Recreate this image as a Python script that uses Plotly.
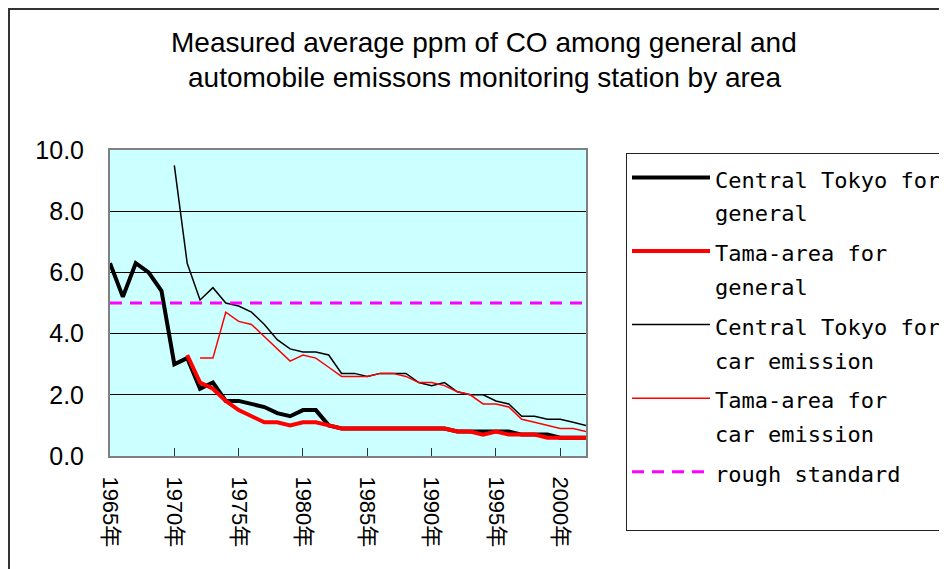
import plotly.graph_objects as go

years = list(range(1965, 2003))

central_general = [6.3, 5.2, 6.3, 6.0, 5.4, 3.0, 3.2, 2.2, 2.4, 1.8,
                   1.8, 1.7, 1.6, 1.4, 1.3, 1.5, 1.5, 1.0, 0.9, 0.9,
                   0.9, 0.9, 0.9, 0.9, 0.9, 0.9, 0.9, 0.8, 0.8, 0.8,
                   0.8, 0.8, 0.7, 0.7, 0.7, 0.6, 0.6, 0.6]

tama_general = [None, None, None, None, None, None, 3.3, 2.4, 2.2, 1.8,
                1.5, 1.3, 1.1, 1.1, 1.0, 1.1, 1.1, 1.0, 0.9, 0.9,
                0.9, 0.9, 0.9, 0.9, 0.9, 0.9, 0.9, 0.8, 0.8, 0.7,
                0.8, 0.7, 0.7, 0.7, 0.6, 0.6, 0.6, 0.6]

central_car = [None, None, None, None, None, 9.5, 6.3, 5.1, 5.5, 5.0,
               4.9, 4.7, 4.3, 3.8, 3.5, 3.4, 3.4, 3.3, 2.7, 2.7,
               2.6, 2.7, 2.7, 2.7, 2.4, 2.3, 2.4, 2.1, 2.0, 2.0,
               1.8, 1.7, 1.3, 1.3, 1.2, 1.2, 1.1, 1.0]

tama_car = [None, None, None, None, None, None, None, 3.2, 3.2, 4.7,
            4.4, 4.3, 3.9, 3.5, 3.1, 3.3, 3.2, 2.9, 2.6, 2.6,
            2.6, 2.7, 2.7, 2.6, 2.4, 2.4, 2.3, 2.1, 2.0, 1.7,
            1.7, 1.6, 1.2, 1.1, 1.0, 0.9, 0.9, 0.8]

standard = [5.0, 5.0, 5.0, 5.0, 5.0, 5.0, 5.0, 5.0, 5.0, 5.0,
            5.0, 5.0, 5.0, 5.0, 5.0, 5.0, 5.0, 5.0, 5.0, 5.0,
            5.0, 5.0, 5.0, 5.0, 5.0, 5.0, 5.0, 5.0, 5.0, 5.0,
            5.0, 5.0, 5.0, 5.0, 5.0, 5.0, 5.0, 5.0]

tick_years = [1965, 1970, 1975, 1980, 1985, 1990, 1995, 2000]
tick_labels = [f"{y}年" for y in tick_years]

series_lines = [["Central Tokyo for", "general"],
                ["Tama-area for", "general"],
                ["Central Tokyo for", "car emission"],
                ["Tama-area for", "car emission"],
                ["rough standard", "&nbsp;"]]

title_lines = ["Measured average ppm of CO among general and",
               "automobile emissons monitoring station by area"]

LEG_TEXT_SIZE = 22

def legend_name(lines):
    return "<br>".join(f"<span style='font-size:{LEG_TEXT_SIZE}px'>{t}</span>" for t in lines)

fig = go.Figure()
styles = [
    dict(color="#000000", width=4),
    dict(color="#FF0000", width=4),
    dict(color="#000000", width=1.5),
    dict(color="#FF0000", width=1.5),
    dict(color="#FF00FF", width=3, dash="12px,8px"),
]
for i, (lines, vals) in enumerate(zip(series_lines,
                                      [central_general, tama_general, central_car, tama_car, standard])):
    fig.add_trace(go.Scatter(x=years, y=vals, name=legend_name(lines), mode="lines",
                             line=styles[i], connectgaps=False,
                             legendgroup=f"g{i}"))

# page offset of the figure inside the browser body (default 8px margin)
OFF = 8
W, H = 947 - OFF, 569 - OFF
# plot-area edges in page pixels
PL, PR, PT, PB = 110, 586, 150, 456
L, R, T, B = PL - OFF, PR - OFF, PT - OFF, PB - OFF

def px_x(x):
    return (x - OFF - L) / (R - L)

def px_y(y):
    return (B - (y - OFF)) / (B - T)

fig.update_layout(
    width=W, height=H, autosize=False,
    margin=dict(l=L, r=W - R, t=T, b=H - B, autoexpand=False),
    paper_bgcolor="white",
    plot_bgcolor="#CCFFFF",
    showlegend=True,
    legend=dict(
        x=px_x(626), y=px_y(153), xanchor="left", yanchor="top",
        bgcolor="white", bordercolor="#222222", borderwidth=1,
        font=dict(family="DejaVu Sans Mono", size=26, color="black"),
        valign="top", itemwidth=78, tracegroupgap=3,
        maxheight=600,
        itemclick=False, itemdoubleclick=False,
    ),
    xaxis=dict(
        range=[1965, 2002], tickvals=tick_years, ticktext=tick_labels,
        tickangle=90, ticks="inside", ticklen=8, tickcolor="#333333",
        showgrid=False, zeroline=False,
        showline=True, linecolor="#808080", linewidth=2, mirror=True,
        tickfont=dict(family="Liberation Sans, Arial, Noto Sans CJK JP", size=22, color="black"),
        ticklabelstandoff=14,
    ),
    yaxis=dict(
        range=[0, 10], dtick=2, tickformat=".1f",
        showgrid=True, gridcolor="#000000", gridwidth=1,
        zeroline=False, ticks="",
        showline=True, linecolor="#808080", linewidth=2, mirror=True,
        tickfont=dict(family="Liberation Sans, Arial", size=25, color="black"),
        ticklabelstandoff=19,
    ),
    annotations=[
        dict(text=title_lines[0], x=px_x(484), y=px_y(43), xref="paper", yref="paper",
             xanchor="center", yanchor="middle", showarrow=False,
             font=dict(family="Liberation Sans, Arial", size=28, color="black")),
        dict(text=title_lines[1], x=px_x(484), y=px_y(78), xref="paper", yref="paper",
             xanchor="center", yanchor="middle", showarrow=False,
             font=dict(family="Liberation Sans, Arial", size=28, color="black")),
    ],
    shapes=[
        dict(type="rect", xref="paper", yref="paper",
             x0=px_x(9), x1=px_x(980), y0=px_y(9), y1=px_y(600),
             line=dict(color="#333333", width=2), fillcolor="rgba(0,0,0,0)", layer="below"),
    ],
)

fig.write_html("out.html")
